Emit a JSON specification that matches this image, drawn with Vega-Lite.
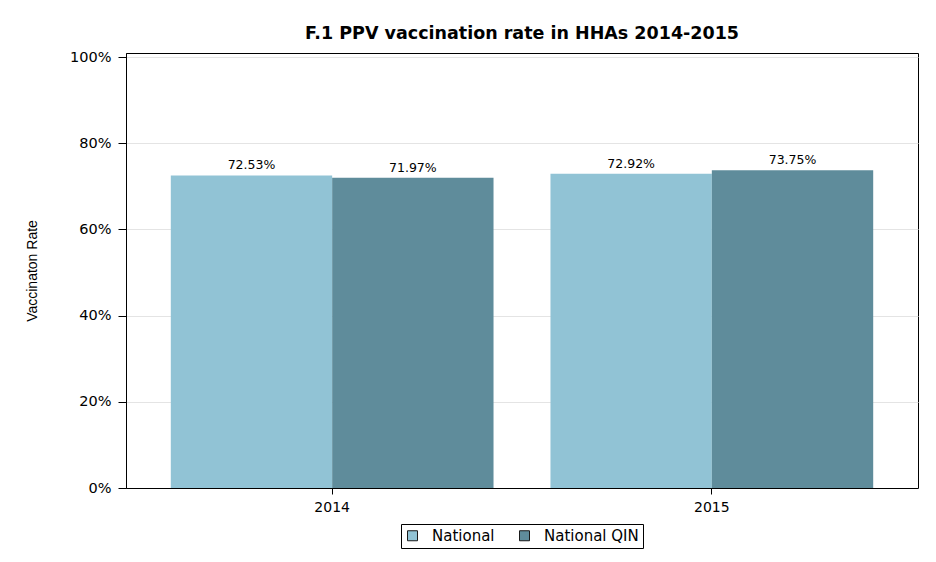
{
  "$schema": "https://vega.github.io/schema/vega-lite/v6.json",
  "width": 792,
  "height": 435,
  "autosize": {"type": "none"},
  "padding": {"left": 126, "top": 53, "right": 18, "bottom": 74},
  "background": "white",
  "title": {
    "text": "F.1 PPV vaccination rate in HHAs 2014-2015",
    "font": "DejaVu Sans",
    "fontSize": 17.5,
    "fontWeight": "bold",
    "color": "black",
    "offset": 7,
    "anchor": "middle"
  },
  "data": {
    "values": [
      {"year": "2014", "series": "National", "rate": 0.7253},
      {"year": "2014", "series": "National QIN", "rate": 0.7197},
      {"year": "2015", "series": "National", "rate": 0.7292},
      {"year": "2015", "series": "National QIN", "rate": 0.7375}
    ]
  },
  "encoding": {
    "x": {
      "field": "year",
      "type": "nominal",
      "scale": {"paddingInner": 0.15, "paddingOuter": 0.118},
      "axis": {
        "title": null,
        "labelAngle": 0,
        "labelFont": "DejaVu Sans",
        "labelFontSize": 14,
        "labelColor": "black",
        "labelPadding": 6,
        "domainColor": "black",
        "tickColor": "black",
        "tickSize": 6,
        "grid": false
      }
    },
    "xOffset": {"field": "series", "type": "nominal", "scale": {"paddingInner": 0, "paddingOuter": 0}},
    "y": {
      "field": "rate",
      "type": "quantitative",
      "scale": {"domain": [0, 1.0093], "nice": false, "zero": true},
      "axis": {
        "title": "Vaccinaton Rate",
        "titleFont": "Liberation Sans",
        "titleFontSize": 14,
        "titleFontWeight": "normal",
        "titleColor": "black",
        "titlePadding": 30,
        "values": [0, 0.2, 0.4, 0.6, 0.8, 1.0],
        "format": ".0%",
        "labelFont": "DejaVu Sans",
        "labelFontSize": 14.5,
        "labelColor": "black",
        "labelPadding": 7,
        "domainColor": "black",
        "tickColor": "black",
        "tickSize": 8,
        "grid": true,
        "gridColor": "#e4e4e4"
      }
    }
  },
  "layer": [
    {
      "mark": {"type": "bar"},
      "encoding": {
        "color": {
          "field": "series",
          "type": "nominal",
          "scale": {"domain": ["National", "National QIN"], "range": ["#91C3D5", "#5F8C9B"]},
          "legend": {
            "title": null,
            "orient": "none",
            "legendX": 275,
            "legendY": 471,
            "direction": "horizontal",
            "strokeColor": "black",
            "padding": 4,
            "symbolType": "square",
            "symbolSize": 100,
            "symbolStrokeColor": "#1a1a1a",
            "symbolStrokeWidth": 1,
            "symbolOpacity": 1,
            "labelFont": "DejaVu Sans",
            "labelFontSize": 15,
            "labelColor": "black",
            "labelOffset": 12,
            "columnPadding": 22
          }
        }
      }
    },
    {
      "mark": {"type": "text", "baseline": "bottom", "dy": -3, "font": "DejaVu Sans", "fontSize": 12.5, "color": "black"},
      "encoding": {
        "text": {"field": "rate", "type": "quantitative", "format": ".2%"}
      }
    }
  ],
  "config": {
    "view": {"stroke": "black", "strokeWidth": 1}
  }
}
